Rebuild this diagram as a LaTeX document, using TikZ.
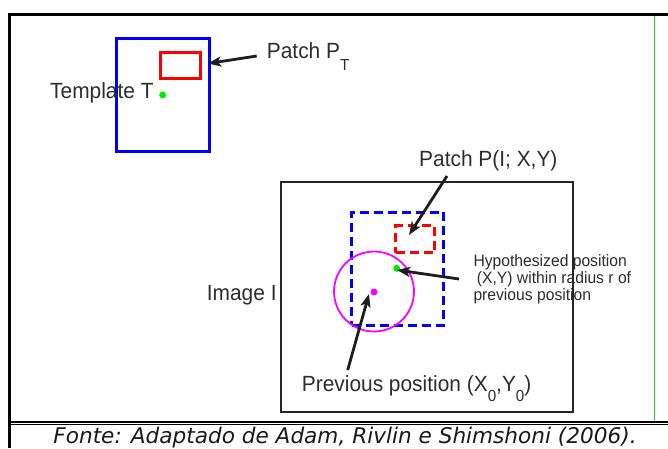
\documentclass[tikz,border=0pt]{standalone}
\usepackage{fontspec}
\usetikzlibrary{arrows.meta}
\newfontfamily\labfont[FakeStretch=0.95]{Liberation Sans}
\newfontfamily\capfont{DejaVu Sans}
\definecolor{framegreen}{RGB}{40,200,40}
\definecolor{ink}{RGB}{30,30,30}
\definecolor{txt}{RGB}{45,45,45}
\definecolor{dotgreen}{RGB}{0,235,0}
\definecolor{purecyan}{RGB}{0,0,255}
\definecolor{purered}{RGB}{255,0,0}
\definecolor{puremag}{RGB}{255,0,255}
\begin{document}
\begin{tikzpicture}[x=1pt,y=-1pt,
  lab/.style={font=\labfont\fontsize{22}{25}\selectfont, text=txt, inner sep=0pt, anchor=base west},
  smalllab/.style={font=\labfont\fontsize{16.5}{18}\selectfont, text=txt, inner sep=0pt, anchor=base west},
  pointer/.style={draw=ink, line width=2.8pt, -{Stealth[length=13pt,width=10pt,inset=3pt]}},
  solidbox/.style={rectangle, inner sep=0pt, line width=3pt},
  dashbox/.style={rectangle, inner sep=0pt, line width=3pt, dash pattern=on 9pt off 5pt},
  dotmark/.style={circle, inner sep=0pt, minimum size=7pt},
]
\useasboundingbox (0,0) rectangle (668,448);
\fill[white] (0,0) rectangle (668,448);
% page frame
\draw[line width=2.8pt] (9.8,448) -- (9.8,14.6) -- (668,14.6);
\draw[line width=2.2pt] (9.8,421.8) -- (668,421.8);
\draw[line width=1.2pt] (9.8,424.8) -- (668,424.8);
\draw[framegreen, line width=1pt] (654,16) -- (654,420.5);

% template
\node[solidbox, draw=purecyan, minimum width=93pt, minimum height=113pt] (tmpl) at (163,95) {};
\node[solidbox, draw=purered, minimum width=40pt, minimum height=26pt] (patchTbox) at (180.5,65.5) {};
\node[dotmark, fill=dotgreen] (tdot) at (162.7,95) {};
\node[lab] (tmplLabel) at (50,98.3) {Template T};
\node[lab] (patchT) at (266.7,58.5) {Patch P\raisebox{-11.5pt}{\fontsize{16}{16}\selectfont T}};

% image
\node[lab] (patchI) at (419,166) {Patch P(I; X,Y)};
\node[lab] (imgLabel) at (206.7,300) {Image I};
\node[lab] (prev) at (301.7,391.5) {Previous position (X\raisebox{-9.5pt}{\fontsize{16}{16}\selectfont 0},Y\raisebox{-9.5pt}{\fontsize{16}{16}\selectfont 0})};
\node[smalllab] (hyp1) at (473.3,266.7) {Hypothesized position};
\node[smalllab] (hyp2) at (476.7,283.3) {(X,Y) within radius r of};
\node[smalllab] (hyp3) at (473.3,300) {previous position};

\node[rectangle, inner sep=0pt, draw=black!85, line width=1.2pt, minimum width=292pt, minimum height=230pt] (img) at (427,297) {};
\node[dashbox, draw=purecyan, minimum width=92pt, minimum height=113pt] (search) at (397.5,268.5) {};
\node[dashbox, draw=purered, minimum width=39pt, minimum height=27pt] (patchIbox) at (415,239) {};
\node[circle, inner sep=0pt, draw=puremag, line width=1.8pt, minimum size=80pt] (radius) at (374,291.5) {};
\node[dotmark, fill=puremag] (pdot) at (374,292) {};
\node[dotmark, fill=dotgreen] (hdot) at (396.7,268.3) {};

% arrows
\coordinate (a1s) at (256.7,56);
\coordinate (a1e) at (208,63.5);
\coordinate (a2s) at (447,176);
\coordinate (a2e) at (409,235);
\coordinate (a3s) at (459,279);
\coordinate (a3e) at (397,270);
\coordinate (a4s) at (347.7,370);
\coordinate (a4e) at (369,294);
\draw[pointer] (a1s) -- (a1e);
\draw[pointer] (a2s) -- (a2e);
\draw[pointer] (a3s) -- (a3e);
\draw[pointer] (a4s) -- (a4e);

% caption
\node[font=\capfont\itshape\fontsize{21.6}{25}\selectfont, text=black!90, inner sep=0pt, anchor=base] (cap) at (345,443) {Fonte: Adaptado de Adam, Rivlin e Shimshoni (2006).};
\end{tikzpicture}
\end{document}
